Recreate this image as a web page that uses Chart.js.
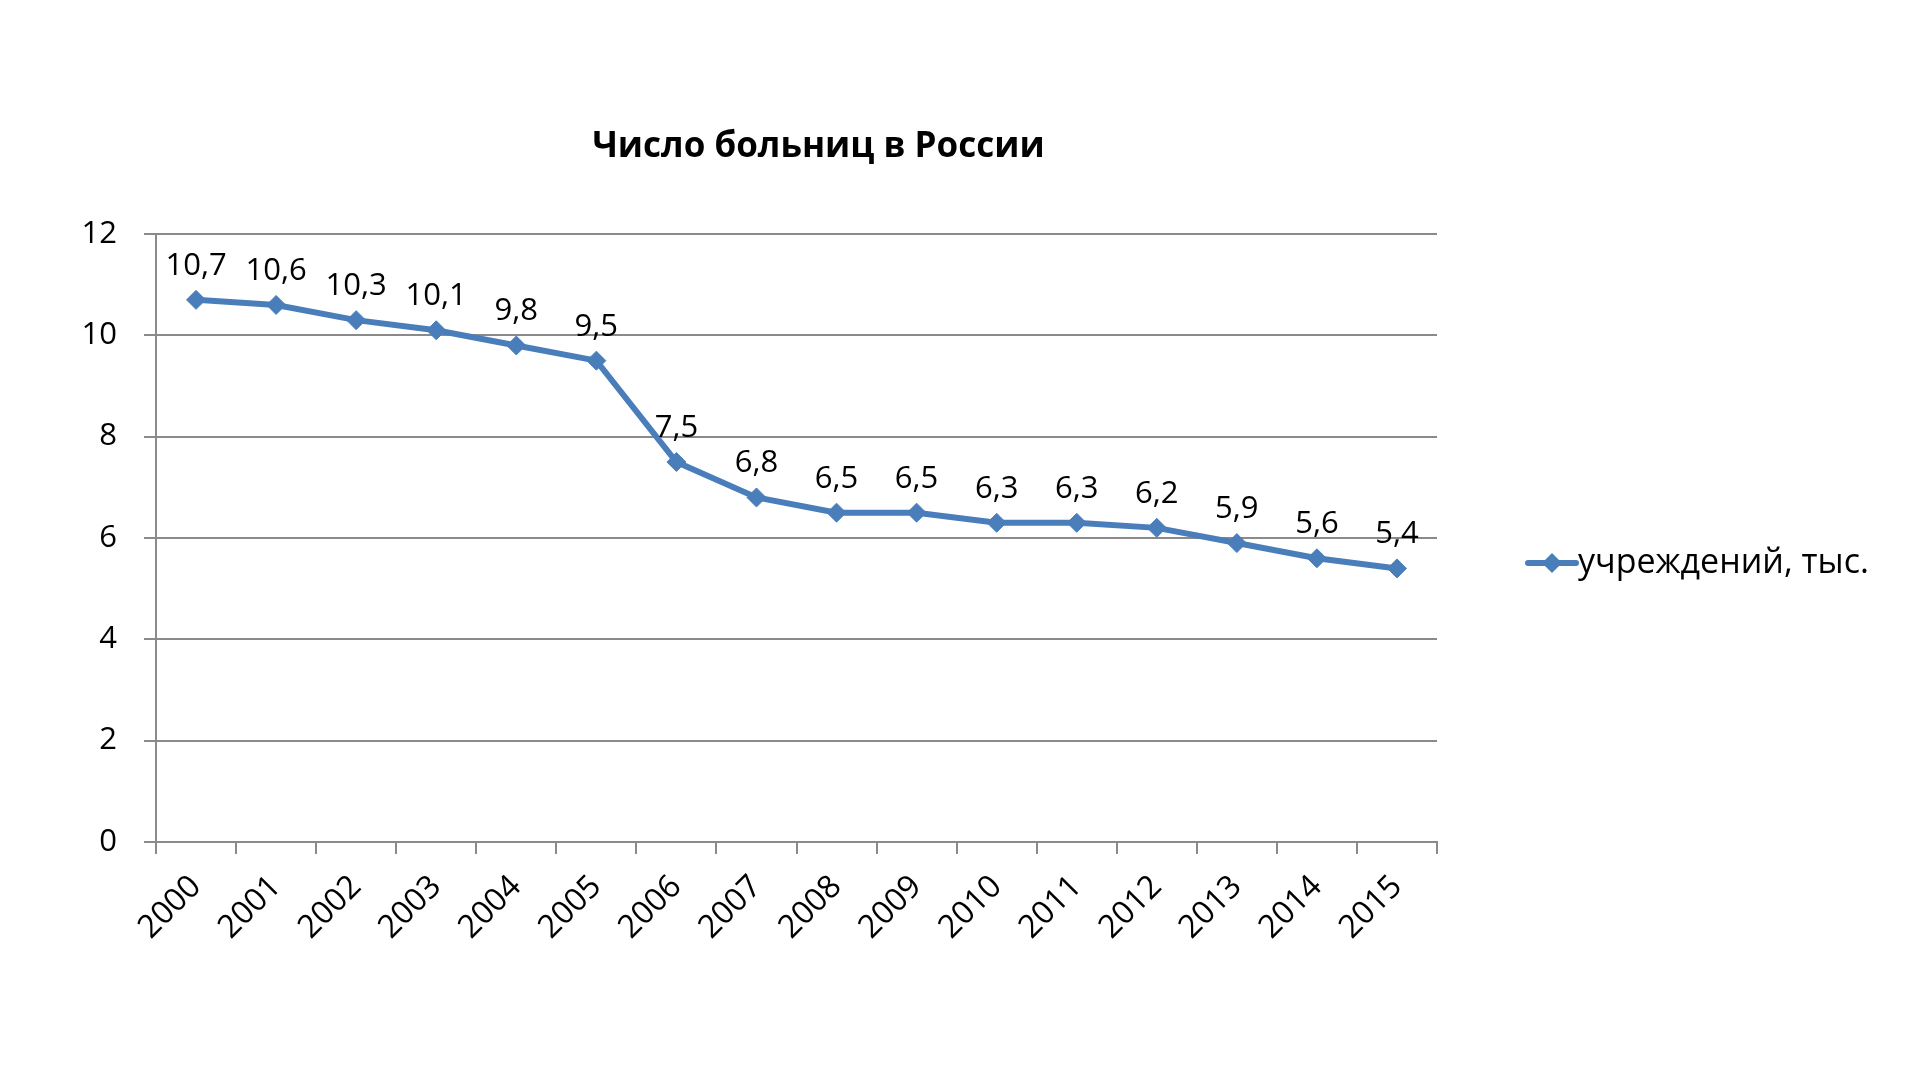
<!DOCTYPE html>
<html lang="ru">
<head>
<meta charset="utf-8">
<title>Число больниц в России</title>
<script src="https://cdn.jsdelivr.net/npm/chart.js@4/dist/chart.umd.min.js"></script>
<style>
  html, body { margin: 0; padding: 0; background: #fff; }
  #wrap { width: 1920px; height: 1080px; }
</style>
</head>
<body>
<div id="wrap"><canvas id="chart"></canvas></div>
<script>
"use strict";

// data
const years = ["2000", "2001", "2002", "2003", "2004", "2005", "2006", "2007",
  "2008", "2009", "2010", "2011", "2012", "2013", "2014", "2015"];
const hospitals = [10.7, 10.6, 10.3, 10.1, 9.8, 9.5, 7.5, 6.8, 6.5, 6.5, 6.3, 6.3, 6.2, 5.9, 5.6, 5.4];
const yTicks = [0, 2, 4, 6, 8, 10, 12];
const seriesName = "учреждений, тыс.";
const chartTitle = "Число больниц в России";

const FONT = "'Open Sans', 'DejaVu Sans', sans-serif";
const BLUE = "#4A7EBB";
const GRID = "#8a8a8a";

// title, value labels and legend drawn like excel does
const extras = {
  id: "extras",
  afterDatasetsDraw(chart) {
    const ctx = chart.ctx;
    const meta = chart.getDatasetMeta(0);
    ctx.save();
    ctx.font = "31px " + FONT;
    ctx.fillStyle = "#000";
    ctx.textAlign = "center";
    ctx.textBaseline = "alphabetic";
    meta.data.forEach((pt, i) => {
      const txt = hospitals[i].toFixed(1).replace(".", ",");
      ctx.fillText(txt, pt.x, pt.y - 25);
    });
    ctx.restore();
  },
  afterDraw(chart) {
    const ctx = chart.ctx;
    const area = chart.chartArea;
    ctx.save();

    // title
    ctx.font = "bold 35px " + FONT;
    ctx.fillStyle = "#000";
    ctx.textAlign = "center";
    ctx.textBaseline = "middle";
    ctx.fillText(chartTitle, (area.left + area.right) / 2 + 22, 147);

    // legend
    const x = area.right + 91;
    const y = 563;
    ctx.strokeStyle = BLUE;
    ctx.lineWidth = 6;
    ctx.lineCap = "round";
    ctx.beginPath();
    ctx.moveTo(x, y);
    ctx.lineTo(x + 48, y);
    ctx.stroke();
    ctx.fillStyle = BLUE;
    ctx.beginPath();
    ctx.moveTo(x + 24, y - 10);
    ctx.lineTo(x + 34, y);
    ctx.lineTo(x + 24, y + 10);
    ctx.lineTo(x + 14, y);
    ctx.closePath();
    ctx.fill();
    ctx.font = "34px " + FONT;
    ctx.fillStyle = "#000";
    ctx.textAlign = "left";
    ctx.textBaseline = "middle";
    ctx.fillText(seriesName, x + 50, y);
    ctx.restore();
  }
};

const ctx = document.getElementById("chart").getContext("2d");
const myChart = new Chart(ctx, {
  type: "line",
  data: {
    labels: years,
    datasets: [{
      label: seriesName,
      data: hospitals,
      borderColor: BLUE,
      backgroundColor: BLUE,
      borderWidth: 6,
      tension: 0,
      pointStyle: "rectRot",
      pointRadius: 9.5,
      pointBorderWidth: 1,
      pointBackgroundColor: BLUE,
      pointBorderColor: BLUE
    }]
  },
  options: {
    responsive: true,
    maintainAspectRatio: false,
    animation: false,
    layout: {
      padding: { left: 0, right: 483, top: 234, bottom: 88 }
    },
    plugins: {
      legend: { display: false },
      tooltip: { enabled: false },
      title: { display: false }
    },
    scales: {
      x: {
        offset: true,
        grid: {
          offset: true,
          drawOnChartArea: false,
          drawTicks: true,
          tickLength: 12,
          color: GRID,
          lineWidth: 2
        },
        border: { display: true, color: GRID, width: 2 },
        ticks: {
          color: "#000",
          font: { family: FONT, size: 32 },
          minRotation: 45,
          maxRotation: 45,
          padding: 14,
          autoSkip: false
        },
        afterFit(scale) { scale.height = 150; }
      },
      y: {
        min: 0,
        max: 12,
        afterBuildTicks(scale) {
          scale.ticks = yTicks.map(v => ({ value: v }));
        },
        grid: {
          color: GRID,
          lineWidth: 2,
          tickLength: 12
        },
        border: { display: true, color: GRID, width: 2 },
        ticks: {
          color: "#000",
          font: { family: FONT, size: 31 },
          padding: 27
        },
        afterFit(scale) { scale.width = 156; }
      }
    }
  },
  plugins: [extras]
});
</script>
</body>
</html>
